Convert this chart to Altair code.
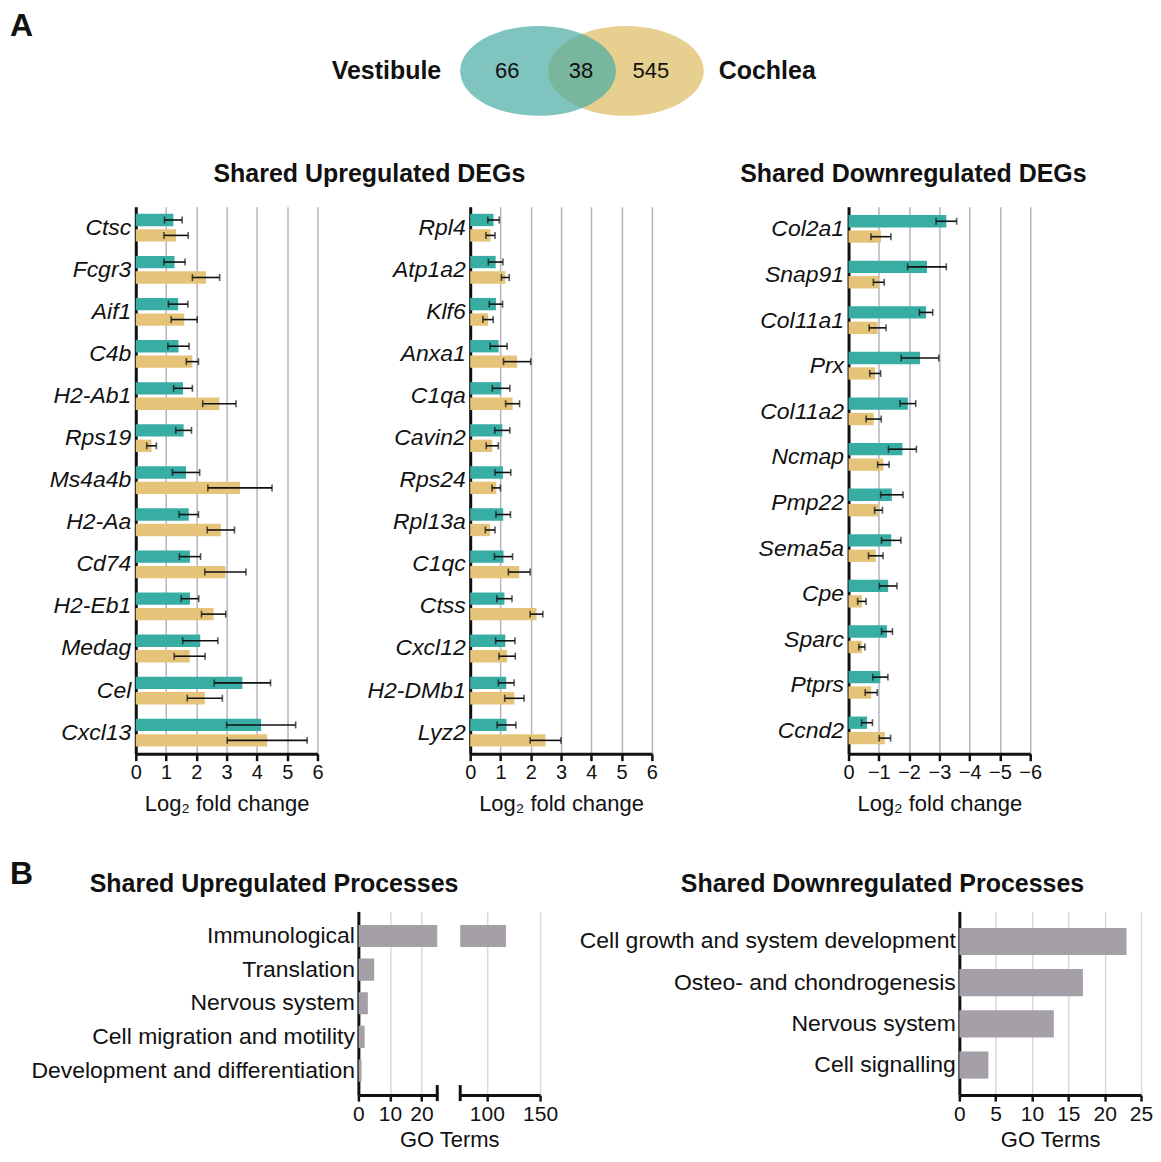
import altair as alt
import pandas as pd

FONT = "Liberation Sans"
TEAL = "#38ada4"
GOLD = "#e5c479"
GREY = "#a5a0a7"
INK = "#111111"

# ---------------- data ----------------
venn_sets = ["Vestibule", "Cochlea"]
venn_counts = [66, 38, 545]          # vestibule only, shared, cochlea only

genes_up1 = ["Ctsc", "Fcgr3", "Aif1", "C4b", "H2-Ab1", "Rps19", "Ms4a4b",
             "H2-Aa", "Cd74", "H2-Eb1", "Medag", "Cel", "Cxcl13"]
vest_up1 = [1.24, 1.28, 1.40, 1.41, 1.56, 1.58, 1.66, 1.75, 1.79, 1.79, 2.13, 3.52, 4.14]
vest_up1_err = [0.29, 0.35, 0.32, 0.35, 0.31, 0.26, 0.45, 0.32, 0.35, 0.29, 0.58, 0.93, 1.14]
coch_up1 = [1.33, 2.32, 1.60, 1.87, 2.76, 0.52, 3.44, 2.81, 2.96, 2.57, 1.78, 2.28, 4.34]
coch_up1_err = [0.40, 0.45, 0.43, 0.20, 0.55, 0.16, 1.06, 0.45, 0.68, 0.40, 0.51, 0.58, 1.32]

genes_up2 = ["Rpl4", "Atp1a2", "Klf6", "Anxa1", "C1qa", "Cavin2", "Rps24",
             "Rpl13a", "C1qc", "Ctss", "Cxcl12", "H2-DMb1", "Lyz2"]
vest_up2 = [0.77, 0.84, 0.85, 0.94, 1.02, 1.06, 1.08, 1.09, 1.10, 1.13, 1.16, 1.19, 1.20]
vest_up2_err = [0.19, 0.24, 0.22, 0.28, 0.29, 0.25, 0.26, 0.24, 0.30, 0.25, 0.32, 0.26, 0.31]
coch_up2 = [0.67, 1.16, 0.59, 1.55, 1.40, 0.73, 0.86, 0.66, 1.62, 2.19, 1.22, 1.46, 2.49]
coch_up2_err = [0.15, 0.13, 0.17, 0.45, 0.23, 0.20, 0.14, 0.16, 0.36, 0.21, 0.27, 0.32, 0.51]

genes_down = ["Col2a1", "Snap91", "Col11a1", "Prx", "Col11a2", "Ncmap",
              "Pmp22", "Sema5a", "Cpe", "Sparc", "Ptprs", "Ccnd2"]
vest_down = [-3.23, -2.59, -2.56, -2.36, -1.96, -1.78, -1.43, -1.41, -1.31, -1.27, -1.05, -0.61]
vest_down_err = [0.34, 0.64, 0.22, 0.62, 0.26, 0.46, 0.37, 0.32, 0.29, 0.18, 0.25, 0.18]
coch_down = [-1.07, -1.00, -0.96, -0.88, -0.83, -1.15, -0.99, -0.90, -0.44, -0.44, -0.75, -1.20]
coch_down_err = [0.33, 0.18, 0.28, 0.18, 0.25, 0.19, 0.13, 0.24, 0.14, 0.10, 0.20, 0.19]

up_processes = ["Immunological", "Translation", "Nervous system",
                "Cell migration and motility", "Development and differentiation"]
up_terms = [118, 5, 3, 2, 1]
down_processes = ["Cell growth and system development", "Osteo- and chondrogenesis",
                  "Nervous system", "Cell signalling"]
down_terms = [23, 17, 13, 4]

tissues = ["Vestibule", "Cochlea"]

# ---------------- Venn diagram ----------------
VW, VH = 1140, 106
vx = alt.Scale(domain=[0, VW], nice=False, zero=False)
vy = alt.Scale(domain=[0, VH], nice=False, zero=False, reverse=True)
ELLIPSE = ("M -1 0 C -1 -0.3187 -0.5523 -0.577 0 -0.577 C 0.5523 -0.577 1 -0.3187 1 0 "
           "C 1 0.3187 0.5523 0.577 0 0.577 C -0.5523 0.577 -1 0.3187 -1 0 Z")
venn_layout = pd.DataFrame({"set": venn_sets, "cx": [531, 619], "cy": [62, 62]})


def ellipse(name, color, opacity):
    return alt.Chart(venn_layout[venn_layout["set"] == name]).mark_point(
        shape=ELLIPSE, filled=True, size=24336, color=color, opacity=opacity, strokeWidth=0
    ).encode(x=alt.X("cx:Q", scale=vx, axis=None), y=alt.Y("cy:Q", scale=vy, axis=None))


def vtext(text, cx, cy, **kw):
    return alt.Chart(pd.DataFrame({"t": [text], "cx": [cx], "cy": [cy]})).mark_text(
        color=INK, **kw).encode(
        x=alt.X("cx:Q", scale=vx, axis=None), y=alt.Y("cy:Q", scale=vy, axis=None), text="t:N")


count_df = pd.DataFrame({"count": venn_counts, "cx": [500, 574, 644], "cy": [62, 62, 62]})
counts = alt.Chart(count_df).mark_text(fontSize=22, color=INK, baseline="middle").encode(
    x=alt.X("cx:Q", scale=vx, axis=None), y=alt.Y("cy:Q", scale=vy, axis=None), text="count:N")

venn = alt.layer(
    ellipse("Cochlea", "#e7d08f", 1.0),
    ellipse("Vestibule", "#4aaba4", 0.7),
    counts,
    vtext(venn_sets[0], 434, 62, fontSize=25, fontWeight="bold", align="right", baseline="middle"),
    vtext(venn_sets[1], 712, 62, fontSize=25, fontWeight="bold", align="left", baseline="middle"),
    vtext("A", 2, 27, fontSize=32, fontWeight="bold", align="left", baseline="alphabetic"),
).properties(width=VW, height=VH)


# ---------------- helpers ----------------
def title(text, dx, offset):
    return alt.TitleParams(text=text, fontSize=25, fontWeight="bold", color=INK, anchor="middle",
                           frame="group", dx=dx, offset=offset, baseline="top", font=FONT)


def spacer(width, letter=None):
    if letter is None:
        return alt.Chart(pd.DataFrame({"t": [""]})).mark_text().encode(
            text="t:N", x=alt.value(0), y=alt.value(0)).properties(width=width, height=1)
    return alt.Chart(pd.DataFrame({"t": [letter]})).mark_text(
        fontSize=32, fontWeight="bold", color=INK, align="left", baseline="alphabetic").encode(
        text="t:N", x=alt.value(2), y=alt.value(-27)).properties(width=width, height=1)


# ---------------- DEG panels ----------------
AH = 548


def deg_panel(genes, vest, vest_err, coch, coch_err, negative, extent, ttl=None):
    rows = []
    for g, v, ve, c, ce in zip(genes, vest, vest_err, coch, coch_err):
        for t, val, e in ((tissues[0], v, ve), (tissues[1], c, ce)):
            rows.append({"gene": g, "tissue": t, "value": val, "lo": val - e, "hi": val + e})
    df = pd.DataFrame(rows)
    pad = 0.34 if len(genes) == 13 else 0.37
    yaxis = alt.Axis(title=None, ticks=False, domainColor=INK, domainWidth=3, labelFontSize=23,
                     labelFontStyle="italic", labelColor=INK, labelPadding=5, labelLimit=300,
                     minExtent=extent, maxExtent=extent, grid=False)
    y = alt.Y("gene:N", sort=genes, scale=alt.Scale(paddingInner=pad, paddingOuter=pad / 2), axis=yaxis)
    yo = alt.YOffset("tissue:N", sort=tissues, scale=alt.Scale(paddingInner=0.2, paddingOuter=0))
    dom = [0, -6] if negative else [0, 6]
    vals = [-i for i in range(7)] if negative else list(range(7))
    xscale = alt.Scale(domain=dom, nice=False, zero=False)
    xaxis = alt.Axis(values=vals, grid=True, gridColor="#b4b4bc", gridWidth=1.5, domainColor=INK,
                     domainWidth=3, tickColor=INK, tickWidth=2.5, tickSize=7, labelFontSize=20,
                     labelColor=INK, labelPadding=2, labelFlush=False, labelOverlap=False,
                     title="Log₂ fold change", titleFontSize=22,
                     titleFontWeight="normal", titleColor=INK, titlePadding=11)
    base = alt.Chart(df)
    bars = base.mark_bar().encode(
        x=alt.X("value:Q", scale=xscale, axis=xaxis), y=y, yOffset=yo,
        color=alt.Color("tissue:N", scale=alt.Scale(domain=tissues, range=[TEAL, GOLD]), legend=None))
    err = base.mark_rule(color=INK, strokeWidth=1.6).encode(
        x=alt.X("lo:Q", scale=xscale, axis=xaxis), x2="hi:Q", y=y, yOffset=yo)
    cap_lo = base.mark_tick(color=INK, thickness=1.6, size=7, orient="vertical").encode(
        x=alt.X("lo:Q", scale=xscale, axis=xaxis), y=y, yOffset=yo)
    cap_hi = base.mark_tick(color=INK, thickness=1.6, size=7, orient="vertical").encode(
        x=alt.X("hi:Q", scale=xscale, axis=xaxis), y=y, yOffset=yo)
    props = dict(width=182, height=AH)
    if ttl is not None:
        props["title"] = ttl
    return alt.layer(bars, err, cap_lo, cap_hi).properties(**props)


p1 = deg_panel(genes_up1, vest_up1, vest_up1_err, coch_up1, coch_up1_err, False, 107,
               title("Shared Upregulated DEGs", 143, 20))
p2 = deg_panel(genes_up2, vest_up2, vest_up2_err, coch_up2, coch_up2_err, False, 110)
p3 = deg_panel(genes_down, vest_down, vest_down_err, coch_down, coch_down_err, True, 171,
               title("Shared Downregulated DEGs", -26, 20))

rowA = alt.hconcat(spacer(1), alt.hconcat(p1, p2, spacing=153, bounds="flush"), p3, spacing=20)

# ---------------- GO process panels ----------------
BH = 184


def proc_axis_y(extent):
    return alt.Axis(title=None, ticks=False, domainColor=INK, domainWidth=3, labelFontSize=23,
                    labelColor=INK, labelPadding=4, labelLimit=600, minExtent=extent,
                    maxExtent=extent, grid=False)


def proc_axis_x(values, ttl, title_x=None):
    kw = dict(values=values, grid=True, gridColor="#d9d9d9", gridWidth=1.5, domainColor=INK,
              domainWidth=3, tickColor=INK, tickWidth=2.5, tickSize=6, labelFontSize=21,
              labelColor=INK, labelPadding=2, labelFlush=False, labelOverlap=False,
              titleFontSize=22, titleFontWeight="normal",
              titleColor=INK, titlePadding=5, title=ttl)
    if title_x is not None:
        kw["titleX"] = title_x
    return alt.Axis(**kw)


up_df = pd.DataFrame({"proc": up_processes, "terms": up_terms})
down_df = pd.DataFrame({"proc": down_processes, "terms": down_terms})
band = alt.Scale(paddingInner=0.34, paddingOuter=0.4)

left_scale = alt.Scale(domain=[0, 25], nice=False, zero=False)
right_scale = alt.Scale(domain=[75, 150], nice=False, zero=False)
left_axis = proc_axis_x([0, 10, 20], "GO Terms", 91)
right_axis = proc_axis_x([100, 150], "")

b_left_bars = alt.Chart(up_df).mark_bar(color=GREY, clip=True).encode(
    x=alt.X("terms:Q", scale=left_scale, axis=left_axis),
    y=alt.Y("proc:N", sort=up_processes, scale=band, axis=proc_axis_y(340)))
b_left_cap = alt.Chart(pd.DataFrame({"v": [25]})).mark_rule(color=INK, strokeWidth=3).encode(
    x=alt.X("v:Q", scale=left_scale, axis=left_axis),
    y=alt.value(BH - 10), y2=alt.value(BH + 6))
b_left = alt.layer(b_left_bars, b_left_cap).properties(
    width=79, height=BH, title=title("Shared Upregulated Processes", -124, 14))

b_right_bars = alt.Chart(up_df).mark_bar(color=GREY, clip=True).encode(
    x=alt.X("terms:Q", scale=right_scale, axis=right_axis),
    y=alt.Y("proc:N", sort=up_processes, scale=band, axis=None))
b_right_cap = alt.Chart(pd.DataFrame({"v": [75]})).mark_rule(color=INK, strokeWidth=3).encode(
    x=alt.X("v:Q", scale=right_scale, axis=right_axis),
    y=alt.value(BH - 10), y2=alt.value(BH + 6))
b_right = alt.layer(b_right_bars, b_right_cap).properties(width=80, height=BH)

b_down = alt.Chart(down_df).mark_bar(color=GREY).encode(
    x=alt.X("terms:Q", scale=alt.Scale(domain=[0, 25], nice=False, zero=False),
            axis=proc_axis_x([0, 5, 10, 15, 20, 25], "GO Terms")),
    y=alt.Y("proc:N", sort=down_processes, scale=band, axis=proc_axis_y(390))
).properties(width=182, height=BH, title=title("Shared Downregulated Processes", -168, 14))

groupBup = alt.hconcat(b_left, b_right, spacing=23, bounds="flush")
rowB = alt.hconcat(alt.hconcat(spacer(30, "B"), groupBup, spacing=-19), b_down, spacing=12)

chart = alt.vconcat(venn, alt.vconcat(rowA, rowB, spacing=44), spacing=45).properties(
    padding=0
).configure(font=FONT, view=alt.ViewConfig(strokeWidth=0, stroke="transparent"))

chart.save("out.html", embed_options={"renderer": "svg", "actions": False})
